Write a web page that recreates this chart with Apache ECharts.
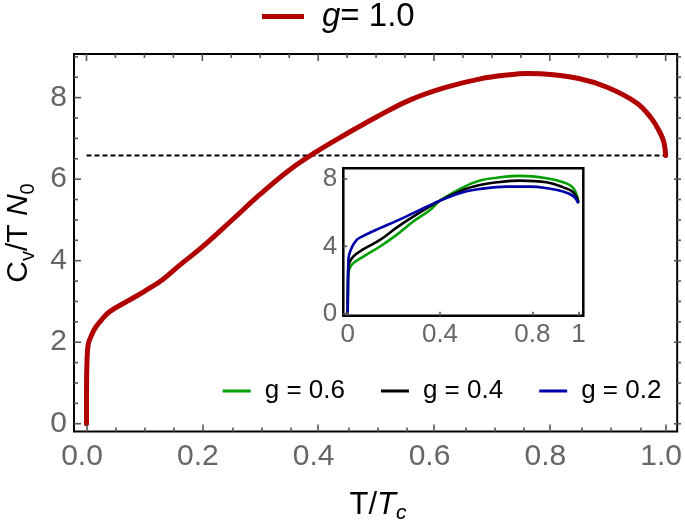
<!DOCTYPE html>
<html><head><meta charset="utf-8">
<script src="https://cdn.jsdelivr.net/npm/echarts@6/dist/echarts.min.js"></script>
<style>html,body{margin:0;padding:0;background:#fff}#c{width:685px;height:524px}</style>
</head><body><div id="c"></div>
<script>
// ---- data ----
const mainT  = [0, 0, 0.001, 0.003, 0.008, 0.015, 0.026, 0.04, 0.07, 0.1, 0.13, 0.16, 0.2, 0.25, 0.3, 0.35, 0.4, 0.45, 0.5, 0.56, 0.62, 0.68, 0.73, 0.76, 0.79, 0.85, 0.9, 0.95, 0.975, 0.99, 0.997, 1.0];
const mainCv = [0, 0.8, 1.6, 1.95, 2.15, 2.35, 2.55, 2.75, 3.0, 3.25, 3.52, 3.88, 4.34, 4.98, 5.63, 6.22, 6.70, 7.12, 7.52, 7.95, 8.25, 8.46, 8.56, 8.59, 8.58, 8.47, 8.25, 7.87, 7.50, 7.15, 6.9, 6.58];
const dashT  = [0, 1.0];
const dashCv = [6.58, 6.58];

const g06T  = [0, 0.001, 0.003, 0.017, 0.068, 0.14, 0.212, 0.284, 0.357, 0.4, 0.5, 0.573, 0.646, 0.747, 0.862, 0.934, 0.978, 1.0];
const g06Cv = [0, 1.5, 2.41, 2.9, 3.39, 3.99, 4.68, 5.47, 6.16, 6.71, 7.5, 7.9, 8.07, 8.18, 8.04, 7.8, 7.45, 6.65];
const g04T  = [0, 0.001, 0.003, 0.024, 0.068, 0.14, 0.212, 0.284, 0.4, 0.5, 0.573, 0.646, 0.747, 0.862, 0.934, 0.978, 1.0];
const g04Cv = [0, 1.5, 2.8, 3.39, 3.83, 4.38, 5.11, 5.76, 6.71, 7.35, 7.64, 7.8, 7.9, 7.8, 7.5, 7.2, 6.6];
const g02T  = [0, 0.001, 0.003, 0.013, 0.039, 0.068, 0.14, 0.212, 0.284, 0.4, 0.5, 0.573, 0.689, 0.79, 0.862, 0.934, 0.978, 1.0];
const g02Cv = [0, 1.5, 3.2, 3.79, 4.38, 4.62, 5.08, 5.51, 5.97, 6.71, 7.21, 7.4, 7.54, 7.54, 7.45, 7.25, 6.98, 6.55];

const xMajor = [0, 0.2, 0.4, 0.6, 0.8, 1.0];
const xMinor = [0.05, 0.1, 0.15, 0.25, 0.3, 0.35, 0.45, 0.5, 0.55, 0.65, 0.7, 0.75, 0.85, 0.9, 0.95];
const yMajor = [0, 2, 4, 6, 8];
const yMinor = [0.5, 1, 1.5, 2.5, 3, 3.5, 4.5, 5, 5.5, 6.5, 7, 7.5, 8.5, 9];
const insetXTicks = [0, 0.4, 0.8, 1];
const insetYTicks = [0, 4, 8];

const names = ['g= 1.0', 'g = 0.6', 'g = 0.4', 'g = 0.2'];

// ---- build ----
const zip = (a, b) => a.map((v, i) => [v, b[i]]);
const FONT = 'Liberation Sans';
const MX = [-0.0216, 1.0199], MY = [-0.19, 9.07];
const IX = [-0.019, 1.021], IY = [-0.12, 8.63];
const MAIN = { left: 74, top: 54, right: 4, bottom: 92.5 };
const INSET = { left: 343.3, top: 168.3, width: 240, height: 147.5 };
const TICK = { stroke: '#555', lineWidth: 1.6 };

function xax(grid, range, ticks, len, labelOpt) {
  const a = {
    type: 'value', gridIndex: grid, position: 'bottom', min: range[0], max: range[1], z: 10,
    axisLine: { show: false, onZero: false }, splitLine: { show: false },
    axisTick: { show: true, inside: true, length: len, customValues: ticks, lineStyle: { color: '#555', width: 1.6 } },
    axisLabel: { customValues: ticks, show: false }
  };
  if (labelOpt) a.axisLabel = Object.assign({ show: true, customValues: ticks, color: '#666', fontFamily: FONT }, labelOpt);
  return a;
}
function yax(grid, range, ticks, labelOpt) {
  const a = {
    type: 'value', gridIndex: grid, position: 'left', min: range[0], max: range[1],
    axisLine: { show: false, onZero: false }, splitLine: { show: false },
    axisTick: { show: false },
    axisLabel: { customValues: ticks, show: false }
  };
  if (labelOpt) a.axisLabel = Object.assign({ show: true, customValues: ticks, color: '#666', fontFamily: FONT }, labelOpt);
  return a;
}

const titles = [
  { type: 'text', id: 'ytitle', x: 19, y: 233, rotation: Math.PI / 2, style: {
    text: '{m|C}{s|v}{m|/T }{n|N}{s|0}', align: 'center', verticalAlign: 'middle',
    rich: {
      m: { fontFamily: FONT, fontSize: 30, fill: '#000', lineHeight: 38 },
      n: { fontFamily: FONT, fontSize: 30, fontStyle: 'italic', fill: '#000', lineHeight: 38 },
      s: { fontFamily: FONT, fontSize: 20, fill: '#000', lineHeight: 18, verticalAlign: 'bottom' }
    } } },
  { type: 'text', id: 'xtitle', x: 378, y: 505, style: {
    text: '{m|T/}{n|T}{s|c}', align: 'center', verticalAlign: 'middle',
    rich: {
      m: { fontFamily: FONT, fontSize: 31, fill: '#000', lineHeight: 38 },
      n: { fontFamily: FONT, fontSize: 31, fontStyle: 'italic', fill: '#000', lineHeight: 38 },
      s: { fontFamily: FONT, fontSize: 21, fontStyle: 'italic', fill: '#000', lineHeight: 18, verticalAlign: 'bottom' }
    } } }
];

const chart = echarts.init(document.getElementById('c'));
chart.setOption({
  animation: false,
  grid: [
    Object.assign({ show: true, borderColor: '#000', borderWidth: 2, backgroundColor: 'transparent' }, MAIN),
    Object.assign({ show: true, borderColor: '#000', borderWidth: 2.5, backgroundColor: '#fff' }, INSET),
    Object.assign({}, MAIN)
  ],
  xAxis: [
    xax(0, MX, xMajor, 7, { fontSize: 30, margin: 10, padding: [0, 9, 0, 0], formatter: v => v.toFixed(1) }),
    xax(1, IX, insetXTicks, 4, { fontSize: 26, margin: 6, formatter: v => (v === 0 ? '0' : v === 1 ? '1' : String(v)) }),
    xax(2, MX, xMinor, 4)
  ],
  yAxis: [
    yax(0, MY, yMajor, { fontSize: 30, margin: 7, formatter: v => String(v) }),
    yax(1, IY, insetYTicks, { fontSize: 26, margin: 6, formatter: v => String(v) }),
    yax(2, MY, yMinor)
  ],
  legend: [
    {
      data: [names[0]], left: 262, top: 0, padding: 0,
      icon: 'rect', itemWidth: 42, itemHeight: 5,
      formatter: () => '{i|g}{t|= 1.0}',
      textStyle: { rich: {
        i: { fontFamily: FONT, fontSize: 33, fontStyle: 'italic', color: '#000', padding: [0, 0, 0, 13], lineHeight: 34 },
        t: { fontFamily: FONT, fontSize: 33, color: '#000', lineHeight: 34 }
      } }
    },
    {
      data: names.slice(1), left: 222.7, top: 378, padding: 0, itemGap: 36,
      icon: 'rect', itemWidth: 28, itemHeight: 3,
      formatter: n => '{t|' + n + '}',
      textStyle: { rich: { t: { fontFamily: FONT, fontSize: 26, color: '#000', padding: [0, 0, 0, 9], lineHeight: 28 } } }
    }
  ],
  graphic: titles,
  series: [
    { name: names[0], type: 'line', xAxisIndex: 0, yAxisIndex: 0, data: zip(mainT, mainCv), showSymbol: false, smooth: 0.4,
      color: '#b00000', lineStyle: { color: '#b00000', width: 5, cap: 'round', join: 'round' } },
    { name: 'dash', type: 'line', xAxisIndex: 0, yAxisIndex: 0, data: zip(dashT, dashCv), showSymbol: false,
      lineStyle: { color: '#000', width: 1.8, type: [5, 3] }, z: 1 },
    { name: names[1], type: 'line', xAxisIndex: 1, yAxisIndex: 1, data: zip(g06T, g06Cv), showSymbol: false, smooth: 0.4,
      color: '#00a000', lineStyle: { color: '#00a000', width: 2.6, join: 'round' }, z: 5 },
    { name: names[2], type: 'line', xAxisIndex: 1, yAxisIndex: 1, data: zip(g04T, g04Cv), showSymbol: false, smooth: 0.4,
      color: '#000', lineStyle: { color: '#000', width: 2.6, join: 'round' }, z: 5 },
    { name: names[3], type: 'line', xAxisIndex: 1, yAxisIndex: 1, data: zip(g02T, g02Cv), showSymbol: false, smooth: 0.4,
      color: '#0000aa', lineStyle: { color: '#0000aa', width: 2.6, join: 'round' }, z: 5 }
  ]
});

// mirrored / side ticks placed through the axes' own scales
const W = 685, H = 524;
const gL = MAIN.left, gR = W - MAIN.right, gT = MAIN.top;
const iL = INSET.left;
const ticks = [];
const tick = (x1, y1, x2, y2) => ticks.push({ type: 'line', z: 10, silent: true, shape: { x1, y1, x2, y2 }, style: TICK });
xMajor.forEach(v => { const p = chart.convertToPixel({ xAxisIndex: 0 }, v); tick(p, gT, p, gT + 7); });
xMinor.forEach(v => { const p = chart.convertToPixel({ xAxisIndex: 0 }, v); tick(p, gT, p, gT + 4); });
yMajor.forEach(v => { const p = chart.convertToPixel({ yAxisIndex: 0 }, v); tick(gL, p, gL + 7, p); tick(gR, p, gR - 7, p); });
yMinor.forEach(v => { const p = chart.convertToPixel({ yAxisIndex: 0 }, v); tick(gL, p, gL + 4, p); tick(gR, p, gR - 4, p); });
insetYTicks.forEach(v => { const p = chart.convertToPixel({ yAxisIndex: 1 }, v); tick(iL, p, iL + 4, p); });
chart.setOption({ graphic: titles.concat(ticks) });
</script></body></html>
